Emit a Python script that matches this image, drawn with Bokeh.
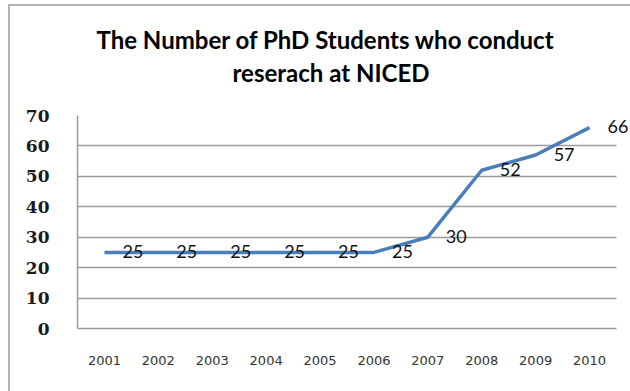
from bokeh.plotting import figure
from bokeh.models import (ColumnDataSource, FixedTicker, Range1d, LabelSet, InlineStyleSheet,
                          Title, BoxAnnotation)
from bokeh.core.properties import value
from bokeh.embed import file_html
from bokeh.resources import INLINE

years = [2001, 2002, 2003, 2004, 2005, 2006, 2007, 2008, 2009, 2010]
year_labels = ["2001", "2002", "2003", "2004", "2005", "2006", "2007", "2008", "2009", "2010"]
students = [25, 25, 25, 25, 25, 25, 30, 52, 57, 66]
y_ticks = [0, 10, 20, 30, 40, 50, 60, 70]
title_line1 = "The Number of PhD Students who conduct"
title_line2 = "reserach at NICED"

src = ColumnDataSource(dict(x=years, y=students, lab=[str(v) for v in students]))

x_start = years[0] - 0.5
x_end_axis = years[-1] + 0.5
x_end_view = years[-1] + 0.76

p = figure(width=630, height=391, title=None,
           x_range=Range1d(x_start, x_end_view), y_range=Range1d(0, 70),
           output_backend="svg", toolbar_location=None,
           min_border_left=77, min_border_right=0, min_border_top=115, min_border_bottom=63)
p.background_fill_color = "white"
p.border_fill_color = "white"
p.outline_line_color = None

spacer = Title(text=" ", text_font_size="2px", standoff=25)
t2 = Title(text=title_line2, align="left", text_font="Lato", text_font_size="24px",
           text_font_style="bold", text_color="#000000", standoff=0, offset=155)
t1 = Title(text=title_line1, align="left", text_font="Lato", text_font_size="24px",
           text_font_style="bold", text_color="#000000", standoff=4, offset=19)
p.add_layout(spacer, "above")
p.add_layout(t2, "above")
p.add_layout(t1, "above")

p.ygrid.grid_line_color = "#9a9a9a"
p.ygrid.grid_line_width = 1.3
p.xgrid.grid_line_color = None

# white mask for the area right of the plot (grid lines stop at the last category edge)
mask = BoxAnnotation(left=x_end_axis, fill_color="white", fill_alpha=1.0,
                     line_color=None, level="underlay")
p.add_layout(mask)

p.line(x="x", y="y", source=src, line_color="#4a7ebb", line_width=3.5)
labels = LabelSet(x="x", y="y", text="lab", source=src, x_offset=18, y_offset=1,
                  text_align="left", text_baseline="middle", text_font=value("Lato"),
                  text_font_size="18px", text_color="#111111")
p.add_layout(labels)

p.yaxis.ticker = FixedTicker(ticks=y_ticks)
p.yaxis.major_label_text_font = "DejaVu Serif"
p.yaxis.major_label_text_font_style = "bold"
p.yaxis.major_label_text_font_size = "17px"
p.yaxis.major_label_text_color = "#1a1a1a"
p.yaxis.major_label_standoff = 22
p.yaxis.major_tick_line_color = None
p.yaxis.minor_tick_line_color = None
p.yaxis.axis_line_color = "#9a9a9a"
p.yaxis.axis_line_width = 1.5

p.xaxis.ticker = FixedTicker(ticks=years)
p.xaxis.major_label_overrides = {y: s for y, s in zip(years, year_labels)}
p.xaxis.bounds = (x_start, x_end_axis)
p.xaxis.major_label_text_font = "DejaVu Sans"
p.xaxis.major_label_text_font_size = "13px"
p.xaxis.major_label_text_color = "#333333"
p.xaxis.major_label_standoff = 21
p.xaxis.major_tick_line_color = None
p.xaxis.minor_tick_line_color = None
p.xaxis.axis_line_color = "#9a9a9a"
p.xaxis.axis_line_width = 1.5

p.stylesheets = [InlineStyleSheet(css="""
:host::after {
  content: "";
  position: absolute;
  left: 8px; top: 4px; right: 0; bottom: 0;
  border-left: 2.5px solid #b3b3b3;
  border-top: 2.5px solid #b3b3b3;
  pointer-events: none;
}
""")]

open("out.html", "w").write(file_html(p, INLINE))
